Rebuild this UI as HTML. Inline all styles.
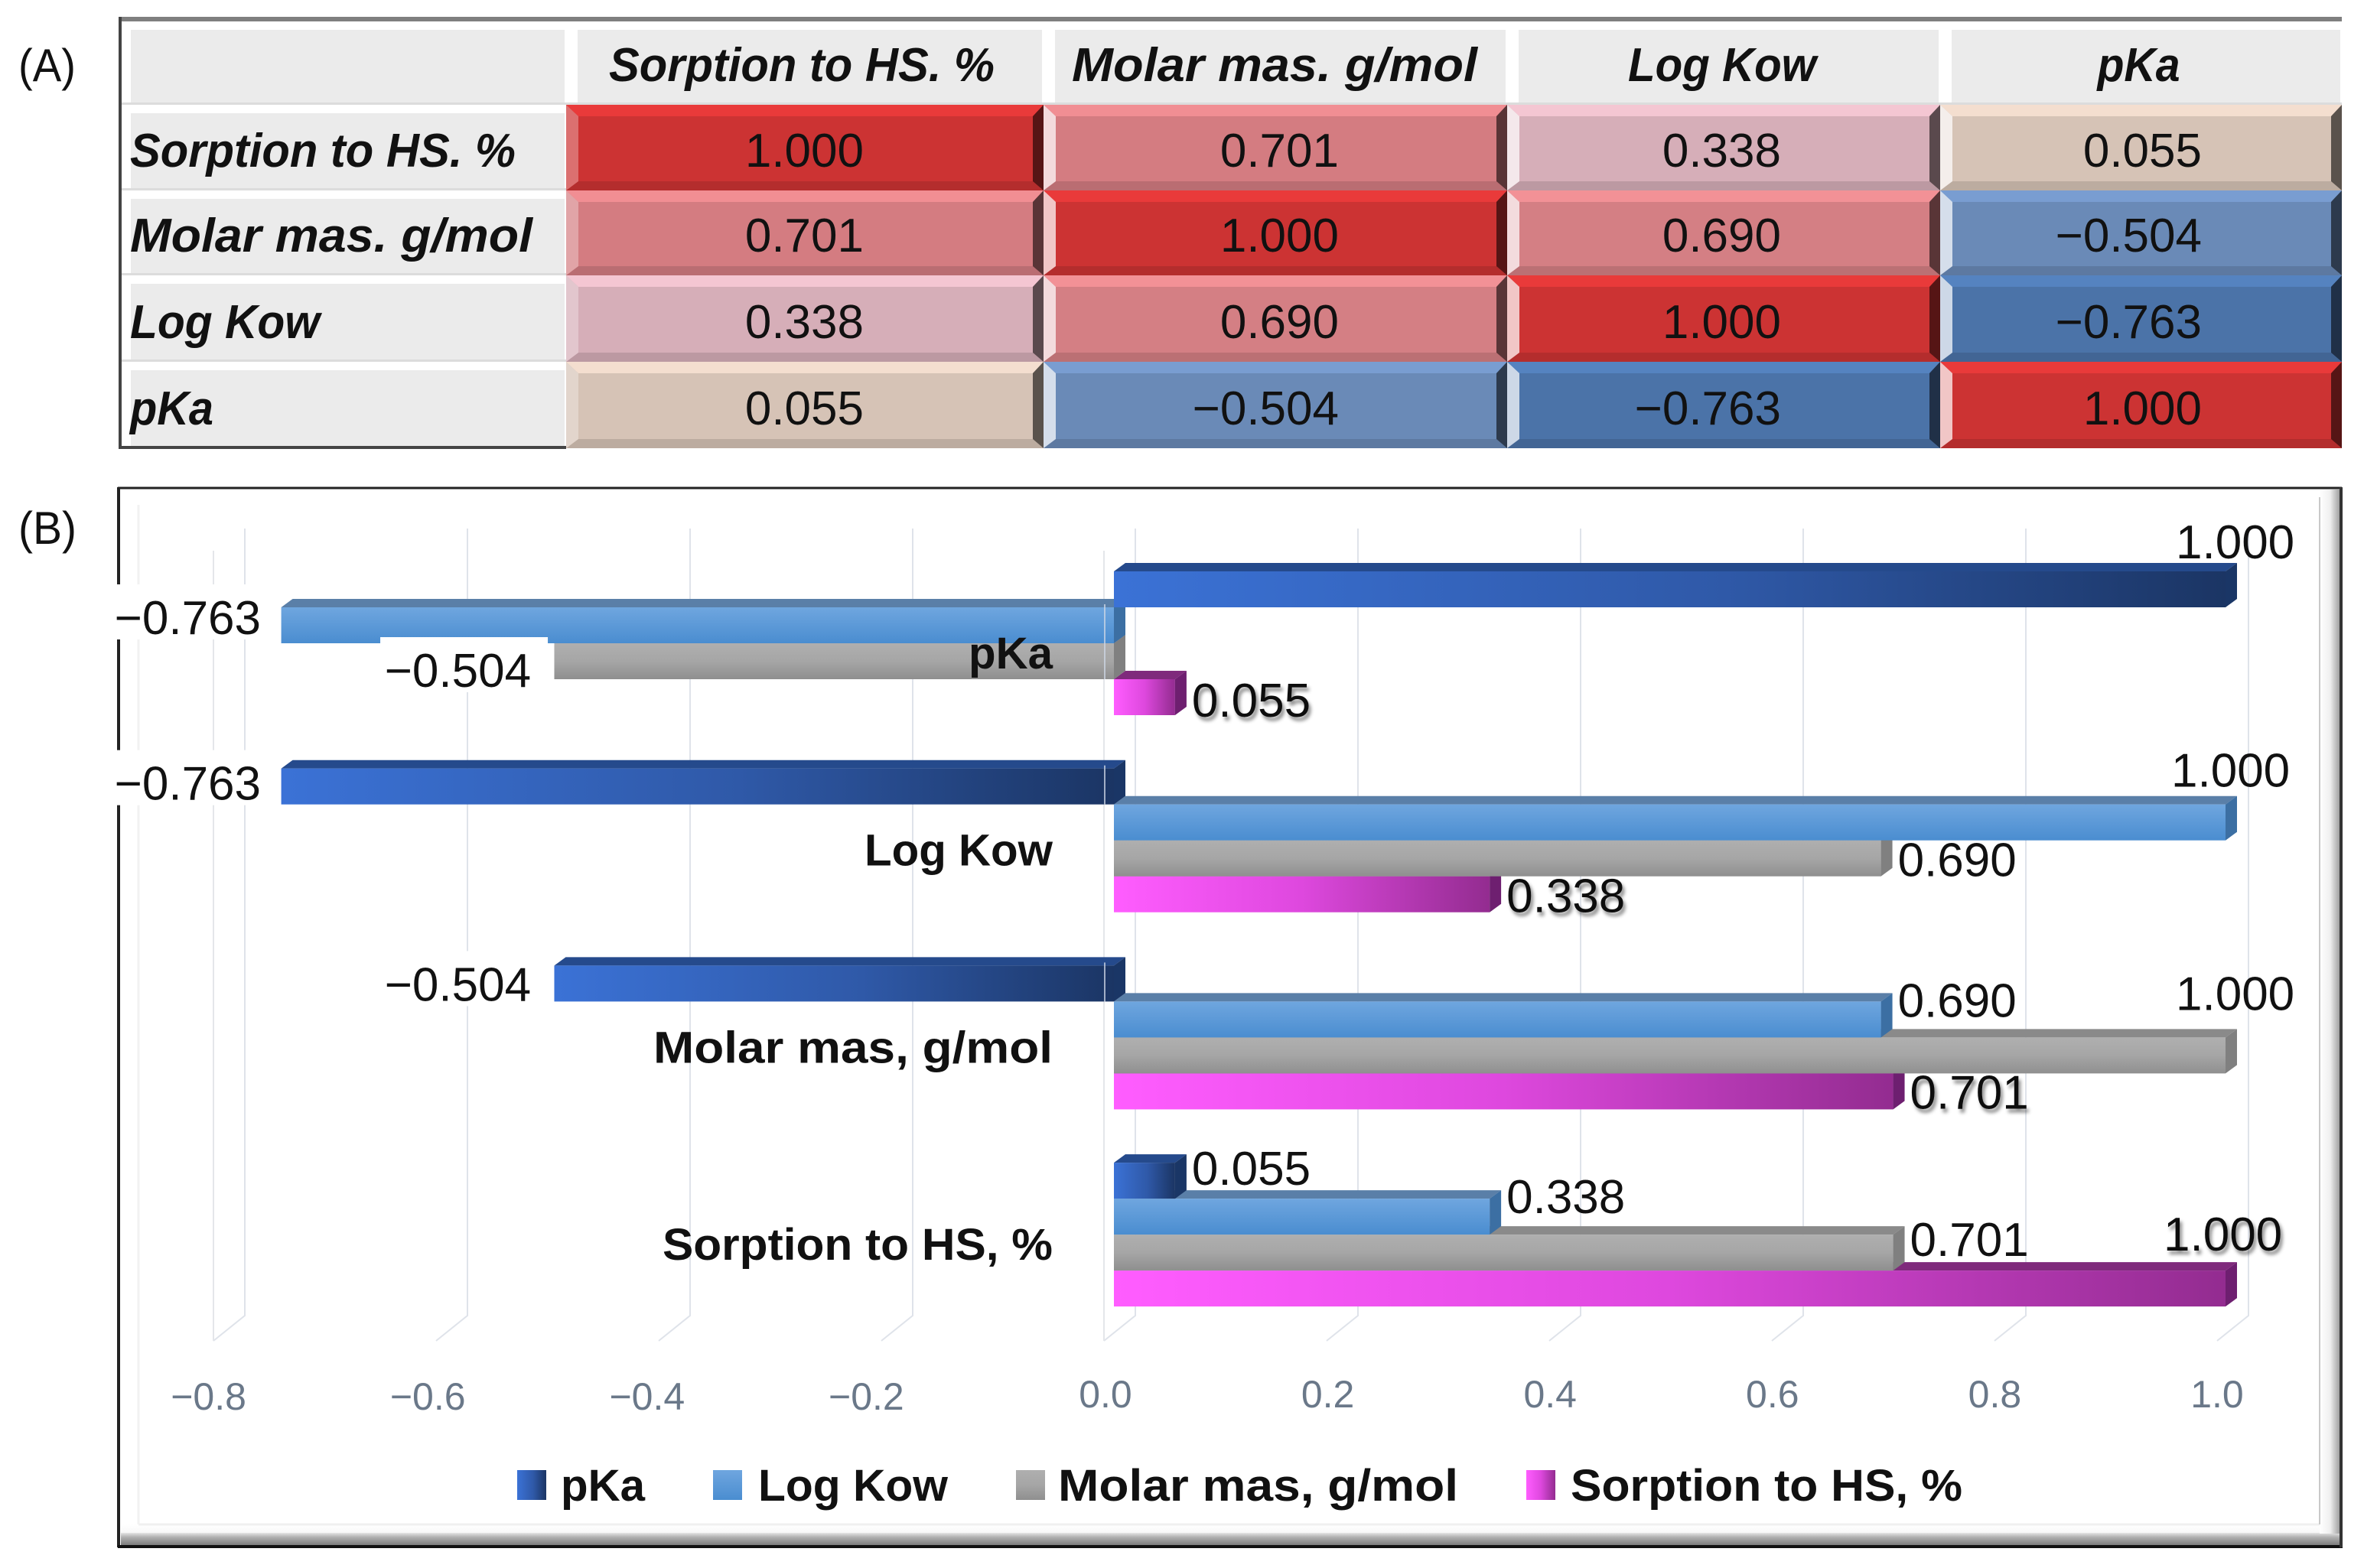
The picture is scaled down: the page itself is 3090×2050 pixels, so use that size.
<!DOCTYPE html>
<html lang="en">
<head>
<meta charset="utf-8">
<title>Correlation matrix and 3D bar chart</title>
<style>
html,body{margin:0;padding:0;background:#fff;}
svg{display:block;font-family:"Liberation Sans",Arial,sans-serif;}
</style>
</head>
<body>
<svg id="root" xmlns="http://www.w3.org/2000/svg" width="3090" height="2050" viewBox="0 0 3090 2050">
  <defs>
    <linearGradient id="fill-pka" x1="0" y1="0" x2="1" y2="0"><stop offset="0" stop-color="#3b72d6"/><stop offset="0.55" stop-color="#2f59a8"/><stop offset="1" stop-color="#1b3564"/></linearGradient>
    <linearGradient id="fill-logkow" x1="0" y1="0" x2="0" y2="1"><stop offset="0" stop-color="#6fa6df"/><stop offset="1" stop-color="#4a8dd0"/></linearGradient>
    <linearGradient id="fill-molar" x1="0" y1="0" x2="0" y2="1"><stop offset="0" stop-color="#afafaf"/><stop offset="0.5" stop-color="#a6a6a6"/><stop offset="1" stop-color="#8f8f8f"/></linearGradient>
    <linearGradient id="fill-sorption" x1="0" y1="0" x2="1" y2="0"><stop offset="0" stop-color="#ff5dff"/><stop offset="0.5" stop-color="#de48de"/><stop offset="1" stop-color="#932c90"/></linearGradient>
    <linearGradient id="bevel-bottom" x1="0" y1="0" x2="0" y2="1"><stop offset="0" stop-color="#ffffff"/><stop offset="0.38" stop-color="#f8f8f8"/><stop offset="0.42" stop-color="#dcdcdc"/><stop offset="0.6" stop-color="#b0b0b0"/><stop offset="1" stop-color="#777777"/></linearGradient>
    <linearGradient id="bevel-right" x1="0" y1="0" x2="1" y2="0"><stop offset="0" stop-color="#ffffff"/><stop offset="0.5" stop-color="#f0f0f0"/><stop offset="1" stop-color="#9a9a9a"/></linearGradient>
    <filter id="label-shadow" x="-10%" y="-20%" width="125%" height="150%"><feDropShadow dx="3" dy="5" stdDeviation="2.5" flood-color="#000" flood-opacity="0.45"/></filter>
  </defs>
  <rect x="0" y="0" width="3090" height="2050" fill="#fff"/>
  <text x="24" y="106" font-size="60" fill="#111" textLength="75" lengthAdjust="spacingAndGlyphs">(A)</text>
  <text x="24" y="711" font-size="60" fill="#111" textLength="76" lengthAdjust="spacingAndGlyphs">(B)</text>
  <g id="table"></g>
  <g id="chart">
    <rect x="154" y="637" width="2906" height="1385" fill="#fff"/>
    <rect x="158" y="1993" width="2900" height="28" fill="url(#bevel-bottom)"/>
    <rect x="3032" y="640" width="27" height="1365" fill="url(#bevel-right)"/>
    <line x1="181" y1="660" x2="181" y2="1993" stroke="#f2f2f2" stroke-width="3"/>
    <line x1="181" y1="1993" x2="3032" y2="1993" stroke="#f0f0f0" stroke-width="3"/>
    <line x1="3032" y1="650" x2="3032" y2="1993" stroke="#c9c9c9" stroke-width="2"/>
    <line x1="154" y1="638" x2="3061" y2="638" stroke="#222" stroke-width="3"/>
    <line x1="155" y1="637" x2="155" y2="2023" stroke="#222" stroke-width="4"/>
    <line x1="154" y1="2022" x2="3062" y2="2022" stroke="#111" stroke-width="4"/>
    <line x1="3060" y1="637" x2="3060" y2="2023" stroke="#333" stroke-width="4"/>
    <g id="grid"></g>
    <g id="bars"></g>
    <g id="labels"></g>
    <g id="axis"></g>
    <g id="legend"></g>
  </g>
</svg>
<script>
// ---------- Data: table (A) ----------
const tableHeaders = ['Sorption to HS. %', 'Molar mas. g/mol', 'Log Kow', 'pKa'];
const rowSorption = [1.000, 0.701, 0.338, 0.055];
const rowMolar = [0.701, 1.000, 0.690, -0.504];
const rowLogKow = [0.338, 0.690, 1.000, -0.763];
const rowPka = [0.055, -0.504, -0.763, 1.000];

// ---------- Data: chart (B) ----------
const categories = ['pKa', 'Log Kow', 'Molar mas, g/mol', 'Sorption to HS, %'];
const seriesNames = ['pKa', 'Log Kow', 'Molar mas, g/mol', 'Sorption to HS, %'];
const pkaValues = [1.000, -0.763, -0.504, 0.055];
const logKowValues = [-0.763, 1.000, 0.690, 0.338];
const molarValues = [-0.504, 0.690, 1.000, 0.701];
const sorptionValues = [0.055, 0.338, 0.701, 1.000];
const tickValues = [-0.8, -0.6, -0.4, -0.2, 0.0, 0.2, 0.4, 0.6, 0.8, 1.0];

// ---------- Helpers ----------
const NS = 'http://www.w3.org/2000/svg';
function mk(tag, attrs, parent) {
  const e = document.createElementNS(NS, tag);
  for (const k in attrs) e.setAttribute(k, attrs[k]);
  parent.appendChild(e);
  return e;
}
function fmt(v) { return (v < 0 ? '\u2212' : '') + Math.abs(v).toFixed(3); }
function slug(s) { return s.toLowerCase().replace(/[^a-z0-9]+/g, '-').replace(/-$/, ''); }
function poly(points, fill, parent) {
  return mk('polygon', { points: points.map(p => p.join(',')).join(' '), fill: fill }, parent);
}

// ---------- Table drawing ----------
const tableEl = document.getElementById('table');
const colEdges = [156, 740, 1364, 1970, 2536, 3061];
const rowEdges = [22, 137, 249, 360, 473, 586];
const colorStops = [
  [-0.763, [75, 115, 168]],
  [-0.504, [106, 138, 183]],
  [0.055, [214, 195, 182]],
  [0.338, [214, 174, 184]],
  [0.690, [212, 127, 132]],
  [1.000, [204, 51, 51]]
];
function heatColor(v) {
  let a = colorStops[0], b = colorStops[colorStops.length - 1];
  if (v <= a[0]) return a[1];
  if (v >= b[0]) return b[1];
  for (let i = 0; i < colorStops.length - 1; i++) {
    if (v >= colorStops[i][0] && v <= colorStops[i + 1][0]) { a = colorStops[i]; b = colorStops[i + 1]; break; }
  }
  const t = (v - a[0]) / (b[0] - a[0]);
  return a[1].map((c, i) => c + (b[1][i] - c) * t);
}
function shade(c, f) { return 'rgb(' + c.map(x => Math.min(255, Math.round(x * f))).join(',') + ')'; }
function tint(c, t) { return 'rgb(' + c.map(x => Math.round(x + (255 - x) * t)).join(',') + ')'; }

function headerCell(x0, y0, x1, y1, parent) {
  const g = mk('g', {}, parent);
  
  
  mk('rect', { x: x0, y: y0, width: x1 - x0, height: y1 - y0, fill: '#ffffff' }, g);
  mk('rect', { x: x0 + 15, y: y0 + 11, width: x1 - x0 - 17, height: y1 - y0 - 11, fill: '#ebebeb' }, g);
  mk('rect', { x: x0, y: y1 - 3, width: x1 - x0, height: 3, fill: '#dcdcdc' }, g);
  return g;
}

const tableMatrix = [rowSorption, rowMolar, rowLogKow, rowPka];
const headerOuter = mk('rect', { x: 156, y: 22, width: 2905, height: 6, fill: '#7f7f7f' }, tableEl);


headerCell(colEdges[0], 28, colEdges[1], rowEdges[1], tableEl);
tableHeaders.forEach((name, c) => {
  headerCell(colEdges[c + 1], 28, colEdges[c + 2], rowEdges[1], tableEl);
  const widths = [504, 530, 246, 108];
  const t = mk('text', {
    x: (colEdges[c + 1] + colEdges[c + 2]) / 2 + [-4, -1, -2, -3][c], y: 106, 'font-size': 62, 'font-weight': 'bold', 'font-style': 'italic',
    'text-anchor': 'middle', fill: '#111', textLength: widths[c], lengthAdjust: 'spacingAndGlyphs'
  }, tableEl);
  t.textContent = name;
  
  
});
tableHeaders.forEach((name, r) => {
  const y0 = rowEdges[r + 1], y1 = rowEdges[r + 2];
  headerCell(colEdges[0], y0, colEdges[1], y1, tableEl);
  const widths = [504, 526, 248, 109];
  const t = mk('text', {
    x: 170, y: y1 - 31, 'font-size': 62, 'font-weight': 'bold', 'font-style': 'italic',
    fill: '#111', textLength: widths[r], lengthAdjust: 'spacingAndGlyphs'
  }, tableEl);
  t.textContent = name;
  
  
});
const valueRightEdges = [1129, 1750, 2328, 2878];
tableMatrix.forEach((row, r) => {
  row.forEach((v, c) => {
    const x0 = colEdges[c + 1], x1 = colEdges[c + 2], y0 = rowEdges[r + 1], y1 = rowEdges[r + 2];
    const col = heatColor(v);
    const cell = mk('g', {}, tableEl);
    
    
    mk('rect', { x: x0, y: y0, width: x1 - x0, height: y1 - y0, fill: shade(col, 1) }, cell);
    poly([[x0, y0], [x1, y0], [x1 - 14, y0 + 15], [x0 + 16, y0 + 15]], shade(col, 1.14), cell);
    poly([[x0, y1], [x1, y1], [x1 - 14, y1 - 12], [x0 + 16, y1 - 12]], shade(col, 0.88), cell);
    poly([[x0, y0], [x0 + 16, y0 + 15], [x0 + 16, y1 - 12], [x0, y1]], tint(col, c === 0 ? 0.3 : 0.72), cell);
    poly([[x1, y0], [x1 - 14, y0 + 15], [x1 - 14, y1 - 12], [x1, y1]], shade(col, 0.42), cell);
    const t = mk('text', {
      x: valueRightEdges[c], y: y1 - 31, 'font-size': 62, 'text-anchor': 'end', fill: '#111'
    }, cell);
    t.textContent = fmt(v);
    
    
  });
});
const tableLeft = mk('rect', { x: 155, y: 22, width: 4, height: 565, fill: '#444' }, tableEl);


const tableBottom = mk('rect', { x: 155, y: 583, width: 585, height: 4, fill: '#444' }, tableEl);



// ---------- Chart axis functions ----------
const ZERO_X = 1456;
const DEPTH_X = 15, DEPTH_Y = 11, BAR_H = 47;
function barX(v) { return v >= 0 ? ZERO_X + v * 1453 : 1419 + v * 1378; }
function negLabelEnd(v) { return 1381 + v * 1363; }
function frontGridX(v) { return 1443 + v * 1455; }
function backGridX(v) { return 1484 + v * 1455; }
function tickLabelX(v) { return v < 0 ? 1421 + v * 1433 : 1445 + v * 1453; }
function barY(catIndex, seriesIndex) { return 747 + catIndex * 257.7 + seriesIndex * BAR_H; }

const seriesValues = [pkaValues, logKowValues, molarValues, sorptionValues];
const seriesFills = ['url(#fill-pka)', 'url(#fill-logkow)', 'url(#fill-molar)', 'url(#fill-sorption)'];
const seriesTops = ['#254a8c', '#5a7fa8', '#8a8a8a', '#7f2a7c'];
const seriesSides = ['#1a3666', '#3c6fa3', '#808080', '#6e1f70'];

// ---------- Gridlines ----------
const gridEl = document.getElementById('grid');
tickValues.forEach(v => {
  const xb = backGridX(v), xf = frontGridX(v);
  const p = mk('polyline', {
    points: xb + ',691 ' + xb + ',1720 ' + xf + ',1753', fill: 'none', stroke: '#dfe3ea', 'stroke-width': 2
  }, gridEl);
  
  
  if (v === tickValues[0] || v === 0) {
    const w = mk('line', { x1: xf, y1: 720, x2: xf, y2: 1753, stroke: '#e4e6ea', 'stroke-width': 2 }, gridEl);
    
    
  }
});

// ---------- Bars: lower series first so the upper ones overlap them ----------
const barsEl = document.getElementById('bars');
categories.forEach((cat, ci) => {
  for (let si = seriesValues.length - 1; si >= 0; si--) {
    const v = seriesValues[si][ci];
    const y = barY(ci, si);
    const a = Math.min(barX(v), ZERO_X), b = Math.max(barX(v), ZERO_X);
    const g = mk('g', {}, barsEl);
    
    
    const top = poly([[a, y], [a + DEPTH_X, y - DEPTH_Y], [b + DEPTH_X, y - DEPTH_Y], [b, y]], seriesTops[si], g);
    
    
    const side = poly([[b, y], [b + DEPTH_X, y - DEPTH_Y], [b + DEPTH_X, y + BAR_H - DEPTH_Y], [b, y + BAR_H]], seriesSides[si], g);
    
    
    const front = mk('rect', { x: a, y: y, width: b - a, height: BAR_H, fill: seriesFills[si] }, g);
    
    
    if (v < 0) {
      const seam = mk('line', { x1: 1444, y1: y - 4, x2: 1444, y2: y + BAR_H, stroke: '#cfd8e6', 'stroke-width': 2, opacity: 0.75 }, g);
      
      
    }
  }
});

// ---------- Data labels (offsets are layout only) ----------
const labelsEl = document.getElementById('labels');
const labelNudge = { '0|0': -64, '0|1': -12, '0|2': 10, '0|3': 2, '1|0': -6, '1|1': -70, '1|2': 0, '1|3': 0, '2|0': -1, '2|1': -27, '2|2': -83, '2|3': -1, '3|0': -18, '3|1': -28, '3|2': -19, '3|3': -73 };
const topLabelBack = [65, 71, 65, 81];
categories.forEach((cat, ci) => {
  seriesValues.forEach((vals, si) => {
    const v = vals[ci];
    const yb = barY(ci, si) + BAR_H + (labelNudge[ci + '|' + si] || 0);
    const x = v < 0 ? negLabelEnd(v) : (v > 0.9 ? barX(v) - topLabelBack[si] : barX(v) + DEPTH_X + 7);
    if (v < 0) {
      const halo = mk('rect', { x: x - 197, y: yb - 65, width: 219, height: 72, fill: '#fff' }, labelsEl);
      
      
    }
    const attrs = { x: x, y: yb, 'font-size': 62, fill: '#111', 'text-anchor': v < 0 ? 'end' : 'start' };
    if (si === 3) attrs.filter = 'url(#label-shadow)';
    const t = mk('text', attrs, labelsEl);
    t.textContent = fmt(v);
    
    
  });
});

// ---------- Category labels ----------
const categoryLabelWidths = [110, 246, 522, 510];
categories.forEach((cat, ci) => {
  const t = mk('text', {
    x: 1376, y: barY(ci, 0) + 127, 'font-size': 58, 'font-weight': 'bold', 'text-anchor': 'end', fill: '#111',
    textLength: categoryLabelWidths[ci], lengthAdjust: 'spacingAndGlyphs'
  }, labelsEl);
  t.textContent = cat;
  
  
});

// ---------- Axis tick labels ----------
const axisEl = document.getElementById('axis');
tickValues.forEach(v => {
  const t = mk('text', { x: tickLabelX(v) - (v < 0 ? 2 : 0), y: v < 0 ? 1843 : 1840, 'font-size': 50, 'text-anchor': 'middle', fill: '#6a7889' }, axisEl);
  t.textContent = (v < 0 ? '\u2212' : '') + Math.abs(v).toFixed(1);
  
  
});

// ---------- Legend ----------
const legendEl = document.getElementById('legend');
const legendSwatchX = [676, 932, 1328, 1995];
const legendTextX = [733, 991, 1383, 2053];
const legendTextW = [110, 248, 523, 512];
seriesNames.forEach((name, i) => {
  const g = mk('g', {}, legendEl);
  
  
  const s = mk('rect', { x: legendSwatchX[i], y: 1922, width: 38, height: 39, fill: seriesFills[i] }, g);
  
  
  const t = mk('text', {
    x: legendTextX[i], y: 1962, 'font-size': 58, 'font-weight': 'bold', fill: '#111',
    textLength: legendTextW[i], lengthAdjust: 'spacingAndGlyphs'
  }, g);
  t.textContent = name;
  
  
});
</script>
</body>
</html>
